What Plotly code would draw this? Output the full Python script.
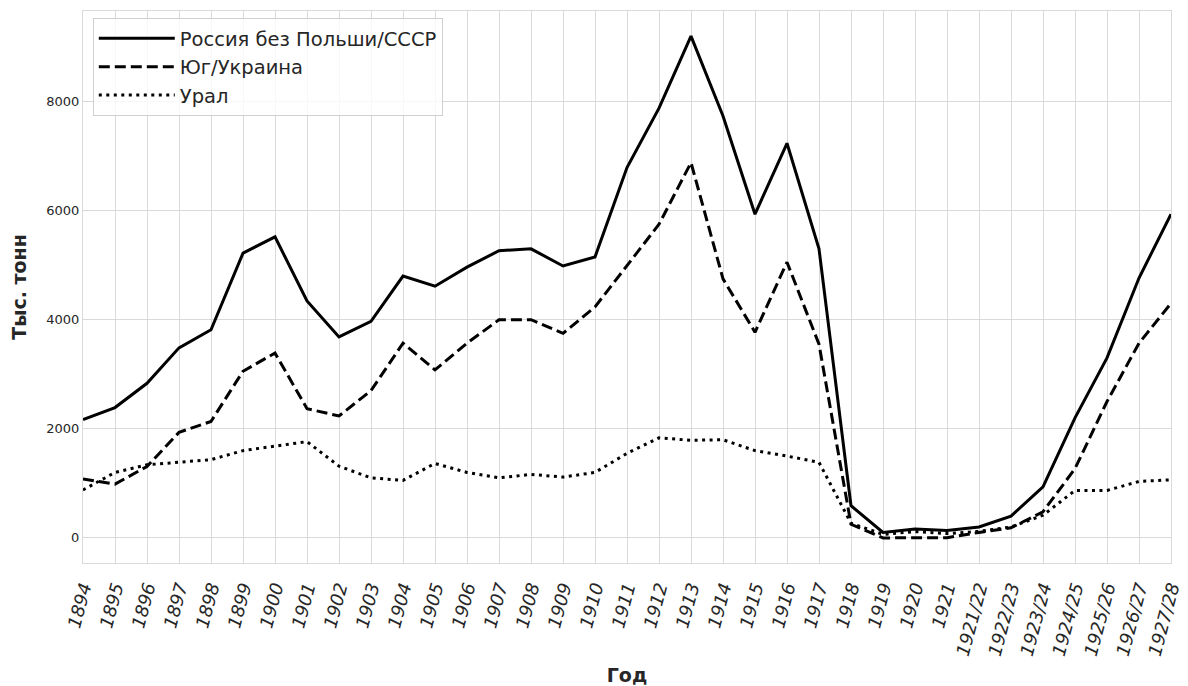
import plotly.graph_objects as go

years = ["1894", "1895", "1896", "1897", "1898", "1899", "1900", "1901", "1902", "1903",
         "1904", "1905", "1906", "1907", "1908", "1909", "1910", "1911", "1912", "1913",
         "1914", "1915", "1916", "1917", "1918", "1919", "1920", "1921", "1921/22",
         "1922/23", "1923/24", "1924/25", "1925/26", "1926/27", "1927/28"]

russia = [2170, 2390, 2835, 3485, 3815, 5220, 5520, 4345, 3685, 3970,
          4800, 4615, 4965, 5265, 5300, 4985, 5150, 6790, 7880, 9200,
          7735, 5935, 7235, 5300, 590, 100, 165, 135, 200,
          400, 935, 2200, 3300, 4765, 5935]

ukraine = [1080, 985, 1310, 1935, 2135, 3055, 3390, 2370, 2235, 2700,
           3570, 3080, 3570, 4000, 4000, 3750, 4235, 4990, 5750, 6880,
           4750, 3770, 5055, 3550, 250, 0, 0, 5, 100,
           185, 480, 1270, 2500, 3570, 4300]

ural = [880, 1200, 1340, 1385, 1435, 1600, 1680, 1765, 1315, 1100,
        1055, 1365, 1200, 1100, 1165, 1115, 1200, 1550, 1835, 1790,
        1800, 1600, 1500, 1385, 270, 65, 115, 80, 120,
        200, 415, 870, 870, 1035, 1065]

names = ["Россия без Польши/СССР", "Юг/Украина", "Урал"]
dashes = ["solid", "11px,5px", "3px,4.5px"]

fig = go.Figure()
for vals, name, dash in zip([russia, ukraine, ural], names, dashes):
    fig.add_trace(go.Scatter(x=years, y=vals, mode="lines", name=name,
                             line=dict(color="black", width=3, dash=dash)))

grid = "#d9d9d9"
fig.update_layout(
    width=1188, height=686,
    margin=dict(l=83, r=17, t=11, b=123, autoexpand=False),
    paper_bgcolor="white", plot_bgcolor="white",
    font=dict(family="DejaVu Sans", color="#262626"),
    showlegend=True,
    legend=dict(x=0.009, y=0.987, xanchor="left", yanchor="top",
                bgcolor="rgba(255,255,255,0.8)", bordercolor="#d0d0d0", borderwidth=1,
                font=dict(size=19.5, color="#262626"), tracegroupgap=0,
                itemwidth=76),
    xaxis=dict(type="category", categoryorder="array", categoryarray=years,
               tickvals=years, range=[0, 34], tickangle=-75, automargin=False,
               tickfont=dict(size=18, style="italic", color="#262626"),
               ticklabelstandoff=6,
               showgrid=True, gridcolor=grid, gridwidth=1,
               showline=True, linecolor=grid, mirror=True, linewidth=1,
               ticks="", zeroline=False,
               title=dict(text="<b>Год</b>", font=dict(size=19, color="#262626"), standoff=18)),
    yaxis=dict(range=[-460, 9660], tickvals=[0, 2000, 4000, 6000, 8000], automargin=False,
               tickfont=dict(size=13, color="#262626"),
               showgrid=True, gridcolor=grid, gridwidth=1,
               showline=True, linecolor=grid, mirror=True, linewidth=1,
               ticks="", zeroline=False,
               title=dict(text="<b>Тыс. тонн</b>", font=dict(size=19, color="#262626"), standoff=14)),
)

fig.write_html("out.html", config={"displayModeBar": False},
               post_script="document.body.style.margin='0';document.body.style.overflow='hidden';")
